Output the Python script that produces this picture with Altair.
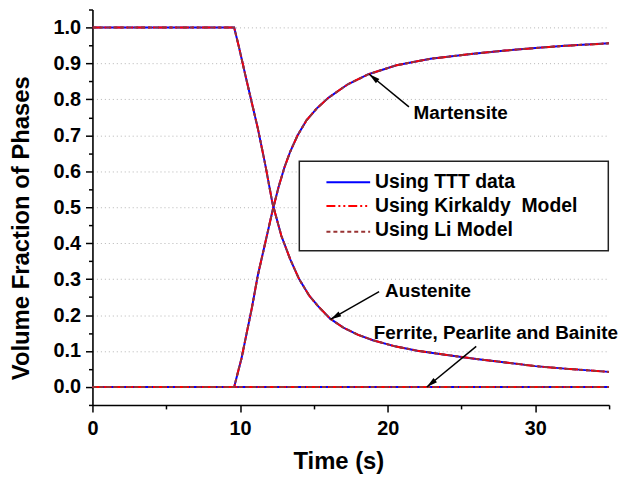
import math
import altair as alt
import pandas as pd

# ---------------- data ----------------
aus_t = [0, 9.6, 9.9, 10.4, 10.8, 11.2, 11.7, 12.2, 12.8, 13.4, 14.0, 14.7, 15.3,
         16.1, 17.0, 18.0, 19.0, 20.5, 22.0, 24.0, 26.0, 28.0, 30.0, 32.0, 35.0]
aus_v = [1.0, 1.0, 0.95, 0.86, 0.79, 0.72, 0.62, 0.51, 0.42, 0.355, 0.30, 0.253, 0.224,
         0.19, 0.165, 0.145, 0.13, 0.113, 0.101, 0.089, 0.078, 0.068, 0.058, 0.051, 0.042]

mar_t = [0, 9.6, 10.1, 10.8, 11.2, 11.7, 12.2, 12.6, 13.0, 13.4, 13.9, 14.5, 15.2, 16.0,
         17.3, 18.7, 20.6, 22.9, 25.8, 28.0, 30.0, 32.0, 35.0]
mar_v = [0.0, 0.0, 0.08, 0.22, 0.31, 0.40, 0.49, 0.555, 0.61, 0.655, 0.70, 0.742, 0.775,
         0.805, 0.842, 0.87, 0.895, 0.913, 0.927, 0.936, 0.943, 0.949, 0.956]

fpb_t = [0, 35]
fpb_v = [0.0, 0.0]

models = ["Using TTT data", "Using Kirkaldy\u00a0 Model", "Using Li Model"]
model_colors = ["#0000ff", "#ff0000", "#993333"]
model_dash = [None, [9, 3, 2, 3, 2, 3], [4, 3]]

x_major = [0, 10, 20, 30]
x_minor = [5, 15, 25, 35]
y_major = [round(0.1 * i, 1) for i in range(11)]
y_minor = [round(-0.05 + 0.1 * i, 2) for i in range(12)]

ann_text = ["Martensite", "Austenite", "Ferrite, Pearlite and Bainite"]
ann_tx = [21.75, 19.82, 19.06]
ann_ty = [0.745, 0.2494, 0.1345]
arr_t0 = [21.44, 19.42, 26.0]
arr_y0 = [0.779, 0.265, 0.113]
arr_t1 = [18.75, 16.12, 22.65]
arr_y1 = [0.870, 0.188, 0.0]

# ---------------- tables ----------------
rows = []
for phase, ts, vs in [("Austenite", aus_t, aus_v), ("Martensite", mar_t, mar_v),
                      ("FPB", fpb_t, fpb_v)]:
    for t, v in zip(ts, vs):
        rows.append({"t": t, "v": v, "phase": phase})
curves = pd.DataFrame(rows)

W, H = 520, 398
X_DOM = [0, 35]
Y_DOM = [-0.05, 1.05]
pxt = W / (X_DOM[1] - X_DOM[0])
pxy = H / (Y_DOM[1] - Y_DOM[0])
angles = []
for a, b, c, d in zip(arr_t0, arr_y0, arr_t1, arr_y1):
    dx = (c - a) * pxt
    dy = -(d - b) * pxy
    angles.append(math.degrees(math.atan2(dx, -dy)) % 360)

ann = pd.DataFrame({"text": ann_text, "tx": ann_tx, "ty": ann_ty,
                    "t0": arr_t0, "y0": arr_y0, "t1": arr_t1, "y1": arr_y1,
                    "ang": angles})

FONT = "Liberation Sans"
x_scale = alt.Scale(domain=X_DOM, nice=False, zero=False)
y_scale = alt.Scale(domain=Y_DOM, nice=False, zero=False)

common = dict(domainColor="black", domainWidth=1.6, tickColor="black", tickWidth=1.5,
              labelFont=FONT, labelFontSize=20, labelFontWeight="bold",
              labelColor="black", labelFlush=False, labelOverlap=False,
              titleFont=FONT, titleFontSize=24, titleFontWeight="bold",
              titleColor="black")

x_axis = alt.Axis(
    orient="bottom", values=x_major, title="Time (s)", grid=False, tickSize=7,
    labelPadding=7, titleX=247.5, titleY=64, titleBaseline="alphabetic",
    titleAlign="center", **common,
)
y_axis = alt.Axis(
    orient="left", values=y_major, title="Volume Fraction of Phases", format=".1f",
    tickSize=7, grid=True, gridColor="#b4b4b4", gridDash=[1, 3], gridWidth=1,
    labelPadding=5, titleAngle=270, titleX=-64.5, titleY=219.6,
    titleBaseline="alphabetic", titleAlign="center", **common,
)
x_axis_minor = alt.Axis(orient="bottom", values=x_minor, title=None, labels=False,
                        domain=False, grid=False, tickSize=4, tickColor="black",
                        tickWidth=1.5)
y_axis_minor = alt.Axis(orient="left", values=y_minor, title=None, labels=False,
                        domain=False, grid=False, tickSize=4, tickColor="black",
                        tickWidth=1.5)

layers = []
# minor ticks carrier (invisible)
layers.append(
    alt.Chart(curves).mark_point(opacity=0).encode(
        x=alt.X("t:Q", scale=x_scale, axis=x_axis_minor),
        y=alt.Y("v:Q", scale=y_scale, axis=y_axis_minor),
    )
)
for i, (m, col, dash) in enumerate(zip(models, model_colors, model_dash)):
    kw = dict(color=col, strokeWidth=2, clip=True)
    if dash:
        kw["strokeDash"] = dash
    layers.append(
        alt.Chart(curves).mark_line(**kw).encode(
            x=alt.X("t:Q", scale=x_scale, axis=x_axis if i == 0 else None),
            y=alt.Y("v:Q", scale=y_scale, axis=y_axis if i == 0 else None),
            detail="phase:N",
        )
    )

# annotations
layers.append(
    alt.Chart(ann).mark_rule(color="black", strokeWidth=1.5).encode(
        x=alt.X("t0:Q", scale=x_scale, axis=None),
        y=alt.Y("y0:Q", scale=y_scale, axis=None),
        x2="t1:Q", y2="y1:Q",
    )
)
layers.append(
    alt.Chart(ann).mark_point(shape="M0,0L0.5,2L-0.5,2Z", filled=True, color="black",
                              size=121, opacity=1, strokeWidth=0).encode(
        x=alt.X("t1:Q", scale=x_scale, axis=None),
        y=alt.Y("y1:Q", scale=y_scale, axis=None),
        angle=alt.Angle("ang:Q", scale=None),
    )
)
layers.append(
    alt.Chart(ann).mark_text(align="left", baseline="alphabetic", font=FONT,
                             fontSize=19, fontWeight="bold", color="black").encode(
        x=alt.X("tx:Q", scale=x_scale, axis=None),
        y=alt.Y("ty:Q", scale=y_scale, axis=None),
        text="text:N",
    )
)

# legend box (drawn by hand, inside the plot)
one = pd.DataFrame({"k": [0]})
layers.append(
    alt.Chart(one).mark_rect(fill="white", stroke="#222222", strokeWidth=1.5).encode(
        x=alt.value(208.2), x2=alt.value(519.2), y=alt.value(152.8), y2=alt.value(242.8)
    )
)
leg_line_y = [173.8, 197.8, 223.6]
leg_text_y = [179.6, 204.0, 228.4]
for m, col, dash, ly, ty in zip(models, model_colors, model_dash, leg_line_y, leg_text_y):
    kw = dict(color=col, strokeWidth=2)
    if dash:
        kw["strokeDash"] = dash
    layers.append(
        alt.Chart(one).mark_rule(**kw).encode(
            x=alt.value(235.5), x2=alt.value(279.5), y=alt.value(ly)
        )
    )
    layers.append(
        alt.Chart(pd.DataFrame({"label": [m]})).mark_text(
            align="left", baseline="alphabetic", font=FONT, fontSize=19.5,
            fontWeight="bold", color="black").encode(
            x=alt.value(284.5), y=alt.value(ty), text="label:N"
        )
    )

chart = alt.layer(*layers).resolve_axis(
    x="independent", y="independent"
).properties(
    width=W, height=H,
    padding={"left": 85, "top": 0, "right": 15, "bottom": 70},
    autosize=alt.AutoSizeParams(type="none"),
).configure_view(stroke=None)

chart.save("out.html", embed_options={"renderer": "svg", "actions": False})
